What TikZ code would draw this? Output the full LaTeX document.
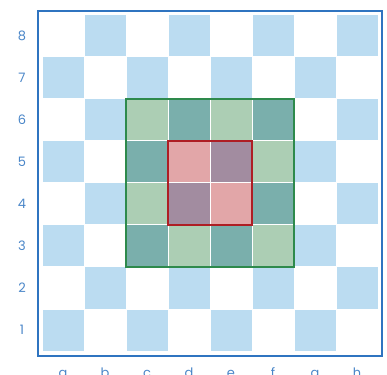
\documentclass[tikz,border=0pt]{standalone}
\usepackage{fontspec}
\setmainfont{Poppins}
\usepackage{tikz}
\usetikzlibrary{calc}
\usepackage{xcolor}

\definecolor{boardblue}{HTML}{BBDCF1}
\definecolor{framebl}{HTML}{2F74C0}
\definecolor{labelbl}{HTML}{4A86C8}
\definecolor{zonegreen}{HTML}{ACCEB4}
\definecolor{zoneteal}{HTML}{7AAFAC}
\definecolor{zonepink}{HTML}{E2A6A8}
\definecolor{zonemauve}{HTML}{A28CA0}
\definecolor{greenline}{HTML}{2E8A4C}
\definecolor{redline}{HTML}{AE1E24}

\newcommand{\cellfill}[3]{% couleur, colonne, rangee
  \fill[#1] ([shift={(0.5pt,0.5pt)}]#2,#3) rectangle ([shift={(-0.5pt,-0.5pt)}]#2+1,#3+1);}

\begin{document}
\begin{tikzpicture}[
  x=42pt, y=42pt,
  rank/.style={font=\fontsize{13}{15}\selectfont, text=labelbl, inner sep=0pt},
  file/.style={rank, anchor=base},
  board/.style={draw=framebl, line width=2pt},
  outerzone/.style={draw=greenline, line width=2pt},
  innerzone/.style={draw=redline, line width=2.2pt}
]
  \useasboundingbox (-1,-23pt) rectangle (345pt,351pt);

  % ECHIQUIER ================================
  \foreach \i in {0,...,7} {
    \foreach \j in {0,...,7} {
      \pgfmathtruncatemacro\sq{\i+\j}
      \ifodd\sq \else \cellfill{boardblue}{\i}{\j} \fi
    }
  }

  % Zone verte (c3 -- f6)
  \foreach \i in {2,...,5} {
    \foreach \j in {2,...,5} {
      \pgfmathtruncatemacro\sq{\i+\j}
      \ifodd\sq \cellfill{zonegreen}{\i}{\j} \else \cellfill{zoneteal}{\i}{\j} \fi
    }
  }

  % Zone rouge (d4 -- e5)
  \foreach \i in {3,4} {
    \foreach \j in {3,4} {
      \pgfmathtruncatemacro\sq{\i+\j}
      \ifodd\sq \cellfill{zonepink}{\i}{\j} \else \cellfill{zonemauve}{\i}{\j} \fi
    }
  }

  % Cadres
  \draw[board] (-4pt,-5pt) rectangle (340pt,340pt);
  \draw[outerzone] (2,2) rectangle (6,6);
  \draw[innerzone] (3,3) rectangle (5,5);

  % Coordonnees
  \foreach \j in {1,...,8}
    \node[rank] (r\j) at (-20pt,\j-0.5) {\j};
  \foreach \f [count=\i from 0] in {a,b,c,d,e,f,g,h}
    \node[file] (f\f) at (\i+0.5,-26pt) {\f};

\end{tikzpicture}
\end{document}
